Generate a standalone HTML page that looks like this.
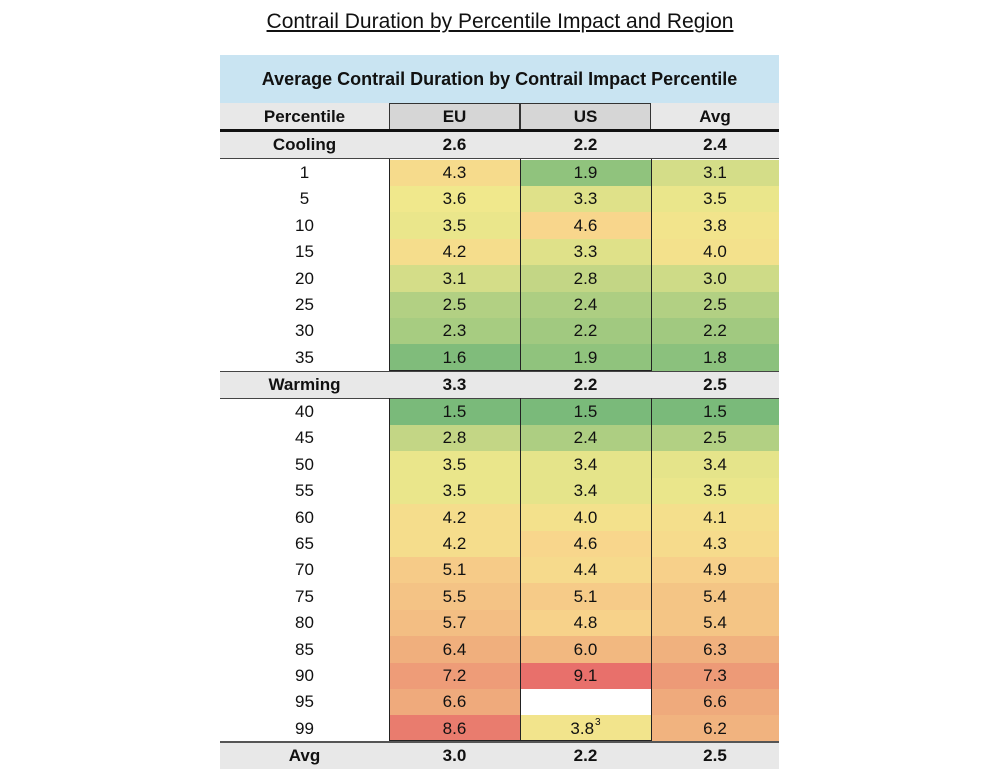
<!DOCTYPE html>
<html><head><meta charset="utf-8">
<style>
body{margin:0;width:1000px;height:783px;background:#fff;font-family:"Liberation Sans",sans-serif;position:relative;overflow:hidden}
.t{position:absolute;left:0;width:1000px;top:10px;text-align:center;font-size:21px;text-decoration:underline;color:#111}
.c{position:absolute;display:flex;align-items:center;justify-content:center;font-size:17px;color:#111;box-sizing:border-box}
.b{font-weight:bold}
sup{font-size:10px;position:relative;top:-6px;vertical-align:baseline;margin-left:1px}
</style></head><body>
<div class="t">Contrail Duration by Percentile Impact and Region</div>
<div id="tbl"></div>
<script>
const percentiles=["1","5","10","15","20","25","30","35","40","45","50","55","60","65","70","75","80","85","90","95","99"];
const euValues=[4.3,3.6,3.5,4.2,3.1,2.5,2.3,1.6,1.5,2.8,3.5,3.5,4.2,4.2,5.1,5.5,5.7,6.4,7.2,6.6,8.6];
const usValues=[1.9,3.3,4.6,3.3,2.8,2.4,2.2,1.9,1.5,2.4,3.4,3.4,4.0,4.6,4.4,5.1,4.8,6.0,9.1,null,3.8];
const avgValues=[3.1,3.5,3.8,4.0,3.0,2.5,2.2,1.8,1.5,2.5,3.4,3.5,4.1,4.3,4.9,5.4,5.4,6.3,7.3,6.6,6.2];
const coolingSummary=["2.6","2.2","2.4"];
const warmingSummary=["3.3","2.2","2.5"];
const avgSummary=["3.0","2.2","2.5"];
const columns=["EU","US","Avg"];

const root=document.getElementById('tbl');
const colX=[220,389,520,651,779];
const RH=26.4;
function mk(x,y,w,h,txt,cls,bg){const d=document.createElement('div');d.className='c '+(cls||'');const y0=Math.round(y),y1=Math.round(y+h);d.style.left=x+'px';d.style.top=y0+'px';d.style.width=w+'px';d.style.height=Math.max(1,y1-y0)+'px';if(bg)d.style.background=bg;if(txt!==null)d.innerHTML=txt;root.appendChild(d);return d;}
const stops=[[1.5,[122,186,122]],[3.6,[240,232,140]],[4.6,[248,214,140]],[6.4,[240,175,125]],[9.1,[232,112,107]]];
function color(v){if(v==null)return '#fff';for(let i=0;i<stops.length-1;i++){const [a,ca]=stops[i],[b,cb]=stops[i+1];if(v<=b||i==stops.length-2){const t=Math.max(0,Math.min(1,(v-a)/(b-a)));return 'rgb('+ca.map((c,k)=>Math.round(c+(cb[k]-c)*t)).join(',')+')';}}}
let d=mk(220,55,559,48,'Average Contrail Duration by Contrail Impact Percentile','b','#c9e4f2');
d.style.fontSize='18px';


d=mk(220,103,169,27,'Percentile','b','#e8e8e8');


columns.forEach((c,i)=>{const e=mk(colX[i+1],103,colX[i+2]-colX[i+1],27,c,'b',i<2?'#d6d6d6':'#e8e8e8');if(i<2)e.style.border='1px solid #333';

});
d=mk(220,129,559,3,'',null,'#111');


function summary(y,label,vals,name){const r=mk(220,y,559,26.4,'',null,'#e8e8e8');


const l=mk(220,y,169,26.4,label,'b');


vals.forEach((v,i)=>{const e=mk(colX[i+1],y,colX[i+2]-colX[i+1],26.4,v,'b');

});}
summary(132,'Cooling',coolingSummary,'cooling');
summary(371.5,'Warming',warmingSummary,'warming');
let sepA=mk(220,158,559,1,'',null,'#444');
let sepB=mk(220,371,559,1,'',null,'#444');
let sepC=mk(220,397.5,559,1,'',null,'#444');
percentiles.forEach((p,i)=>{
  const y=i<8?159.5+i*RH:398.5+(i-8)*RH;
  const l=mk(220,y,169,RH,p);
  
  
  [euValues,usValues,avgValues].forEach((arr,j)=>{
    const v=arr[i];
    let txt=v==null?'':v.toFixed(1);
    if(j==1&&p=='99')txt+='<sup>3</sup>';
    const e=mk(colX[j+1],y,colX[j+2]-colX[j+1],RH,txt,null,color(v));
    
    
  });
});
[[159,371],[398,741]].forEach(([a,b])=>{[389,520,651].forEach(x=>{const e=mk(x,a,1,b-a,'',null,'#222');

});
const e2=mk(389,b-1,262,1,'',null,'#222');});
d=mk(220,741,559,2,'',null,'#555');


summary(743,'Avg',avgSummary,'avg');
</script>
</body></html>
